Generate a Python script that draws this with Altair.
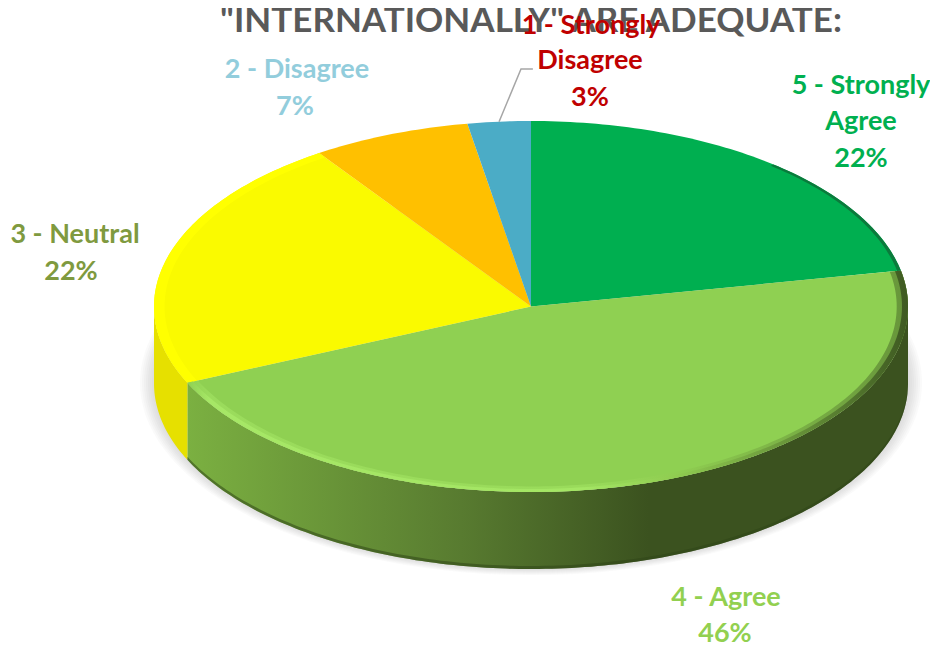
import math
import altair as alt

categories = ["5 - Strongly Agree", "4 - Agree", "3 - Neutral", "2 - Disagree", "1 - Strongly Disagree"]
shares = [21.9, 46.35, 22.25, 6.8, 2.7]
printed = ["22%", "46%", "22%", "7%", "3%"]
title_text = '"INTERNATIONALLY" ARE ADEQUATE:'

# Page geometry (pixels inside the chart; the page adds an 8px margin)
CX, CY, RX, RY, DEPTH = 523, 298.5, 377, 185.5, 77
K = RY / RX
D = DEPTH / RX
PROJ = dict(type="identity", reflectY=True, scale=RX, translate=[CX, CY])


def pt(deg, r=1.0, dy=0.0):
    a = math.radians(deg)
    return [r * math.sin(a), r * K * math.cos(a) - dy]


def arc(a, b, r=1.0, dy=0.0):
    n = max(2, int(abs(b - a)) + 1)
    return [pt(a + (b - a) * i / n, r, dy) for i in range(n + 1)]


def shape(ring, **mark):
    ring = ring + [ring[0]]
    feat = {"type": "Feature", "properties": {}, "geometry": {"type": "Polygon", "coordinates": [ring]}}
    return alt.Chart(alt.Data(values=[feat])).mark_geoshape(strokeWidth=0, **mark).project(**PROJ)


def h_grad(*stops):
    return alt.LinearGradient(
        gradient="linear", x1=0, x2=1, y1=0, y2=0,
        stops=[alt.GradientStop(offset=o, color=c) for o, c in stops],
    )


# slice boundaries, clockwise from 12 o'clock
edges = [0.0]
for s in shares:
    edges.append(edges[-1] + s / sum(shares) * 360)
top_colors = ["#00AF50", "#8FD052", "#FAFA00", "#FFC000", "#4BACC6"]

layers = []

# soft shadow
for d in range(2, 16, 2):
    r = 1 + d / RX
    layers.append(shape(arc(0, 360, r, D * 0.99), fill="#808080", opacity=0.045))

# side wall
layers.append(shape(arc(edges[1], 90) + arc(90, edges[1], 1, D), fill="#3B521F"))
layers.append(shape(
    arc(90, edges[2]) + arc(edges[2], 90, 1, D),
    fill=h_grad((0, "#7BB041"), (0.38, "#587B30"), (0.64, "#3B521F"), (1, "#3B521F")),
))
layers.append(shape(arc(edges[2], 270) + arc(270, edges[2], 1, D), fill="#E6E000"))
# darker lip along the base of the wall
layers.append(shape(arc(90, edges[2], 1, D) + arc(edges[2], 90, 1, D - 0.008), fill="#2F4517", opacity=0.55))

# top faces
for i in range(5):
    layers.append(shape([[0, 0]] + arc(edges[i], edges[i + 1]), fill=top_colors[i]))

# bevel rims
layers.append(shape(arc(edges[2], edges[3]) + arc(edges[3], edges[2], 0.972), fill="#FFFF00"))
rim = h_grad((0, "#8FD052"), (0.03, "#A6E766"), (0.55, "#A4E664"), (0.68, "#8FCB50"),
             (0.82, "#6C9A3C"), (1, "#3F5A22"))
layers.append(shape(arc(edges[1], edges[2]) + arc(edges[2], edges[1], 0.970), fill=rim, opacity=0.5))
layers.append(shape(arc(edges[1], edges[2]) + arc(edges[2], edges[1], 0.984), fill=rim))
layers.append(shape(arc(40, edges[1]) + arc(edges[1], 40, 0.99), fill="#0B7A3C"))

# leader line of the 3% label
leader = [pt(edges[4] + shares[4] / sum(shares) * 180, 1.0), [-0.0265, 0.63], [0.005, 0.63]]
layers.append(
    alt.Chart(alt.Data(values=[{"type": "Feature", "properties": {},
                                "geometry": {"type": "LineString", "coordinates": leader}}]))
    .mark_geoshape(filled=False, stroke="#A6A6A6", strokeWidth=1.5)
    .project(**PROJ)
)


def text(s, px, py, color, size=27):
    return alt.Chart(alt.Data(values=[{"t": s}])).mark_text(
        font="Lato", fontWeight="bold", fontSize=size, color=color, align="center", baseline="middle"
    ).encode(text="t:N", x=alt.value(px - 8), y=alt.value(py - 8))


layers.append(text(title_text, 531, 21, "#595959", 35))
label_colors = ["#00B050", "#92D050", "#7F9A3F", "#92CDDC", "#C00000"]
label_lines = [
    ["5 - Strongly", "Agree", printed[0]],
    ["4 - Agree", printed[1]],
    ["3 - Neutral", printed[2]],
    ["2 - Disagree", printed[3]],
    ["1 - Strongly", "Disagree", printed[4]],
]
label_xy = [
    [(861, 86), (861, 122), (861, 159)],
    [(726, 598), (725, 634)],
    [(75, 235), (71, 272)],
    [(297, 70), (295, 107)],
    [(591, 26), (590, 61), (590, 98)],
]
for lines, xy, col in zip(label_lines, label_xy, label_colors):
    for s, (px, py) in zip(lines, xy):
        layers.append(text(s, px, py, col))

chart = alt.layer(*layers).properties(
    width=922, height=640, padding=0, autosize=alt.AutoSizeParams(type="none")
).configure_view(strokeWidth=0)

chart.save("out.html", embed_options={"renderer": "svg", "actions": False})
